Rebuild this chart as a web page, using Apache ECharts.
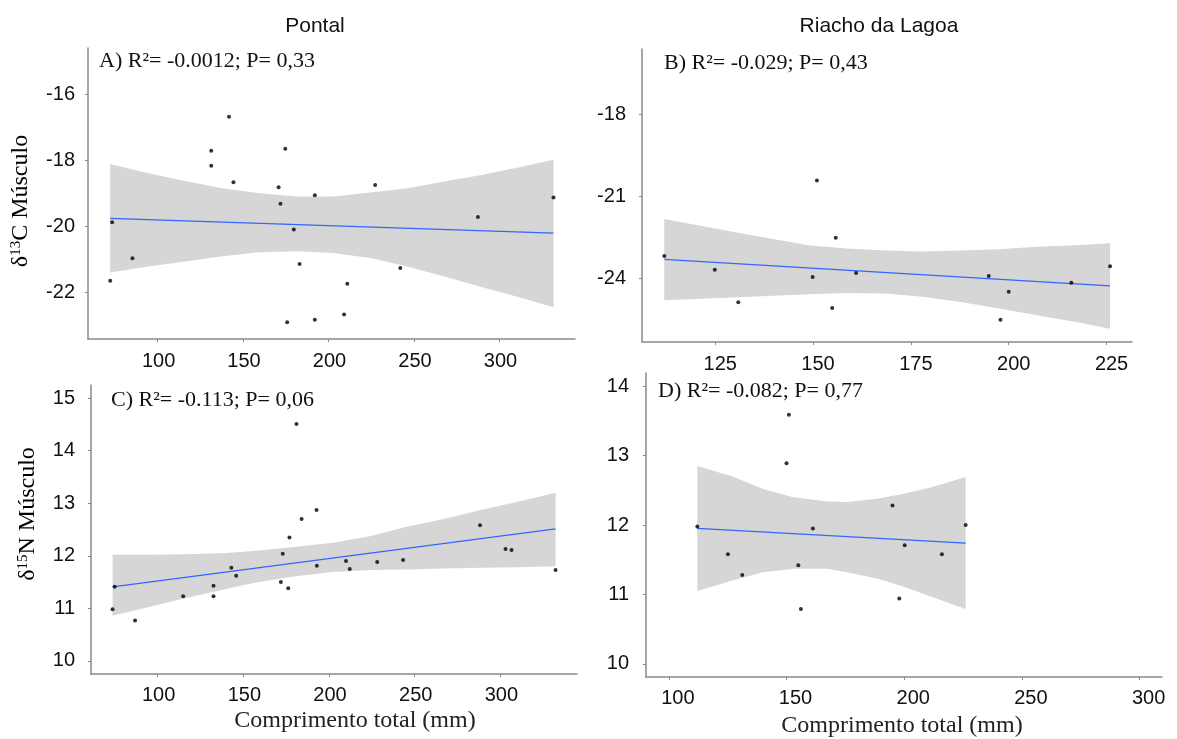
<!DOCTYPE html>
<html>
<head>
<meta charset="utf-8">
<style>
  html, body { margin: 0; padding: 0; background: #ffffff; }
  #chart { width: 1177px; height: 739px; }
</style>
<script src="https://cdn.jsdelivr.net/npm/echarts@6/dist/echarts.min.js"></script>
</head>
<body>
<div id="chart"></div>
<script>
// ---------- Data ----------
// Panel A: Pontal, d13C vs total length
const ptsA_x = [72.3, 73.4, 85.3, 131.4, 131.4, 141.8, 144.4, 170.8, 171.9, 174.7, 175.8, 179.7, 183.1, 192.0, 192.0, 209.1, 211.0, 227.3, 242.0, 287.4, 331.6];
const ptsA_y = [-21.64, -19.87, -20.96, -17.71, -18.16, -16.68, -18.66, -18.81, -19.31, -17.65, -22.89, -20.09, -21.13, -19.05, -22.82, -22.66, -21.73, -18.74, -21.25, -19.71, -19.12];
const fitA_x = [72.3, 331.6];
const fitA_y = [-19.75, -20.20];
const bandA_x  = [72.3, 94.6, 116.2, 137.9, 159.5, 181.2, 202.8, 224.5, 246.1, 267.7, 289.4, 311.0, 331.6];
const bandA_hi = [-18.11, -18.39, -18.62, -18.84, -18.99, -19.09, -19.09, -18.97, -18.84, -18.64, -18.44, -18.21, -17.98];
const bandA_lo = [-21.39, -21.21, -21.06, -20.90, -20.78, -20.75, -20.80, -20.95, -21.21, -21.51, -21.83, -22.13, -22.44];

// Panel B: Riacho da Lagoa, d13C vs total length
const ptsB_x = [112.0, 124.9, 130.9, 149.9, 151.0, 154.9, 155.8, 161.0, 194.9, 197.9, 200.0, 216.0, 225.9];
const ptsB_y = [-23.18, -23.68, -24.87, -23.95, -20.41, -25.08, -22.51, -23.80, -23.91, -25.51, -24.49, -24.16, -23.55];
const fitB_x = [112.0, 225.9];
const fitB_y = [-23.30, -24.27];
const bandB_x  = [112.0, 129.4, 148.8, 158.6, 168.3, 178.0, 187.7, 197.5, 207.2, 216.9, 225.9];
const bandB_hi = [-21.82, -22.29, -22.78, -22.90, -22.98, -23.01, -22.98, -22.93, -22.84, -22.78, -22.71];
const bandB_lo = [-24.80, -24.70, -24.58, -24.53, -24.55, -24.67, -24.86, -25.10, -25.35, -25.59, -25.84];

// Panel C: Pontal, d15N vs total length
const ptsC_x = [73.7, 74.9, 86.8, 114.9, 132.6, 132.6, 143.0, 145.8, 171.9, 173.0, 176.2, 176.9, 181.0, 184.0, 192.7, 192.9, 209.9, 212.1, 228.1, 243.2, 288.1, 303.0, 306.5, 332.2];
const ptsC_y = [10.98, 11.41, 10.77, 11.23, 11.43, 11.23, 11.77, 11.62, 11.50, 12.04, 11.38, 12.35, 14.51, 12.70, 12.87, 11.81, 11.90, 11.75, 11.88, 11.92, 12.58, 12.13, 12.11, 11.73];
const fitC_x = [73.7, 332.2];
const fitC_y = [11.41, 12.51];
const bandC_x  = [73.7, 94.2, 115.8, 137.4, 148.2, 159.0, 180.6, 202.2, 223.8, 245.4, 267.0, 288.6, 310.2, 332.2];
const bandC_hi = [12.02, 12.02, 12.03, 12.05, 12.07, 12.10, 12.17, 12.25, 12.37, 12.55, 12.70, 12.87, 13.03, 13.20];
const bandC_lo = [10.86, 11.02, 11.19, 11.35, 11.43, 11.50, 11.61, 11.69, 11.73, 11.74, 11.76, 11.77, 11.78, 11.80];

// Panel D: Riacho da Lagoa, d15N vs total length
const ptsD_x = [112.1, 125.1, 131.2, 150.0, 151.0, 155.0, 156.1, 161.2, 195.0, 197.9, 200.2, 216.0, 226.1];
const ptsD_y = [11.98, 11.58, 11.28, 12.89, 13.59, 11.42, 10.79, 11.95, 12.28, 10.94, 11.71, 11.58, 12.00];
const fitD_x = [112.1, 226.1];
const fitD_y = [11.95, 11.74];
const bandD_x  = [112.1, 127.0, 140.0, 152.9, 167.5, 175.6, 188.5, 199.8, 211.2, 226.1];
const bandD_hi = [12.85, 12.70, 12.52, 12.40, 12.34, 12.33, 12.38, 12.45, 12.54, 12.69];
const bandD_lo = [11.05, 11.20, 11.32, 11.37, 11.37, 11.32, 11.23, 11.11, 10.97, 10.79];

// Tick labels
const xTicksA = [100, 150, 200, 250, 300];
const yTicksA = [-22, -20, -18, -16];
const xTicksB = [125, 150, 175, 200, 225];
const yTicksB = [-24, -21, -18];
const xTicksC = [100, 150, 200, 250, 300];
const yTicksC = [10, 11, 12, 13, 14, 15];
const xTicksD = [100, 150, 200, 250, 300];
const yTicksD = [10, 11, 12, 13, 14];

// Texts
const colTitles = ['Pontal', 'Riacho da Lagoa'];
const panelNotes = ['A) R²= -0.0012; P= 0,33', 'B) R²= -0.029; P= 0,43', 'C) R²= -0.113; P= 0,06', 'D) R²= -0.082; P= 0,77'];
const xName = 'Comprimento total (mm)';

// ---------- Chart ----------
const chart = echarts.init(document.getElementById('chart'), null, { renderer: 'canvas' });

const AXIS_COLOR = '#8a8a8a';
const SANS = '"Liberation Sans", Arial, sans-serif';
const SERIF = '"Liberation Serif", "Times New Roman", serif';

const grids = [
  { left: 88,  top: 48,  width: 487, height: 291 },
  { left: 642, top: 49,  width: 490, height: 293 },
  { left: 91,  top: 385, width: 486, height: 289 },
  { left: 646, top: 373, width: 516, height: 304 }
];
const xRanges = [[59.3, 344.2], [106.3, 231.5], [61.1, 344.7], [90.3, 309.5]];
const yRanges = [[-23.4, -14.6], [-26.33, -15.59], [9.75, 15.25], [9.81, 14.19]];
const xTicks = [xTicksA, xTicksB, xTicksC, xTicksD];
const yTicks = [yTicksA, yTicksB, yTicksC, yTicksD];
const xMargins = [12, 12, 11, 11];
const xLabelShift = [2, 10, 2, 18];
const yMargins = [13, 16, 16, 17];

function mkX(i) {
  return {
    type: 'value', gridIndex: i, min: xRanges[i][0], max: xRanges[i][1],
    axisLine: { show: true, onZero: false, lineStyle: { color: AXIS_COLOR, width: 1.5 } },
    axisTick: { show: true, length: 3, customValues: xTicks[i], lineStyle: { color: AXIS_COLOR } },
    axisLabel: { customValues: xTicks[i], color: '#111', fontSize: 20, fontFamily: SANS, margin: xMargins[i],
                 padding: [0, 0, 0, xLabelShift[i]] },
    splitLine: { show: false }
  };
}
function mkY(i) {
  return {
    type: 'value', gridIndex: i, min: yRanges[i][0], max: yRanges[i][1],
    axisLine: { show: true, onZero: false, lineStyle: { color: AXIS_COLOR, width: 1.5 } },
    axisTick: { show: true, length: 3, customValues: yTicks[i], lineStyle: { color: AXIS_COLOR } },
    axisLabel: { customValues: yTicks[i], color: '#111', fontSize: 20, fontFamily: SANS, margin: yMargins[i] },
    splitLine: { show: false }
  };
}

function bandSeries(i, bx, lo, hi) {
  return {
    type: 'custom', xAxisIndex: i, yAxisIndex: i, silent: true, z: 1,
    data: bx.map((x, k) => [x, lo[k], hi[k]]),
    encode: { x: 0, y: [1, 2] },
    renderItem: function (params, api) {
      if (params.dataIndex !== 0) return null;
      const pts = [];
      for (let k = 0; k < bx.length; k++) pts.push(api.coord([bx[k], hi[k]]));
      for (let k = bx.length - 1; k >= 0; k--) pts.push(api.coord([bx[k], lo[k]]));
      return { type: 'polygon', shape: { points: pts }, style: { fill: '#d6d6d6', stroke: null } };
    }
  };
}
function fitSeries(i, fx, fy) {
  return {
    type: 'line', xAxisIndex: i, yAxisIndex: i, silent: true, z: 3,
    data: fx.map((x, k) => [x, fy[k]]),
    symbol: 'none', lineStyle: { color: '#3366ff', width: 1.3 }
  };
}
function ptSeries(i, px, py) {
  return {
    type: 'scatter', xAxisIndex: i, yAxisIndex: i, silent: true, z: 4,
    data: px.map((x, k) => [x, py[k]]),
    symbolSize: 4, itemStyle: { color: '#000' }
  };
}

const richY = {
  n: { fontFamily: SERIF, fontSize: 24, color: '#222' },
  s: { fontFamily: SERIF, fontSize: 15, color: '#222', padding: [0, 0, 10, 0] }
};

const option = {
  animation: false,
  backgroundColor: '#ffffff',
  grid: grids,
  xAxis: [0, 1, 2, 3].map(mkX),
  yAxis: [0, 1, 2, 3].map(mkY),
  series: [
    bandSeries(0, bandA_x, bandA_lo, bandA_hi), fitSeries(0, fitA_x, fitA_y), ptSeries(0, ptsA_x, ptsA_y),
    bandSeries(1, bandB_x, bandB_lo, bandB_hi), fitSeries(1, fitB_x, fitB_y), ptSeries(1, ptsB_x, ptsB_y),
    bandSeries(2, bandC_x, bandC_lo, bandC_hi), fitSeries(2, fitC_x, fitC_y), ptSeries(2, ptsC_x, ptsC_y),
    bandSeries(3, bandD_x, bandD_lo, bandD_hi), fitSeries(3, fitD_x, fitD_y), ptSeries(3, ptsD_x, ptsD_y)
  ],
  graphic: [
    { type: 'text', x: 315, y: 26, style: { text: colTitles[0], font: '21px ' + SANS, fill: '#111', textAlign: 'center', textVerticalAlign: 'middle' } },
    { type: 'text', x: 879, y: 26, style: { text: colTitles[1], font: '21px ' + SANS, fill: '#111', textAlign: 'center', textVerticalAlign: 'middle' } },
    { type: 'text', x: 99,  y: 61,  z: 10, style: { text: panelNotes[0], font: '22px ' + SERIF, fill: '#111', textAlign: 'left', textVerticalAlign: 'middle' } },
    { type: 'text', x: 664, y: 63,  z: 10, style: { text: panelNotes[1], font: '22px ' + SERIF, fill: '#111', textAlign: 'left', textVerticalAlign: 'middle' } },
    { type: 'text', x: 111, y: 400, z: 10, style: { text: panelNotes[2], font: '22px ' + SERIF, fill: '#111', textAlign: 'left', textVerticalAlign: 'middle' } },
    { type: 'text', x: 658, y: 391, z: 10, style: { text: panelNotes[3], font: '22px ' + SERIF, fill: '#111', textAlign: 'left', textVerticalAlign: 'middle' } },
    { type: 'text', x: 21, y: 201, rotation: Math.PI / 2,
      style: { text: '{n|δ}{s|13}{n|C Músculo}', rich: richY, textAlign: 'center', textVerticalAlign: 'middle' } },
    { type: 'text', x: 28, y: 514, rotation: Math.PI / 2,
      style: { text: '{n|δ}{s|15}{n|N Músculo}', rich: richY, textAlign: 'center', textVerticalAlign: 'middle' } },
    { type: 'text', x: 355, y: 721, style: { text: xName, font: '24px ' + SERIF, fill: '#222', textAlign: 'center', textVerticalAlign: 'middle' } },
    { type: 'text', x: 902, y: 726, style: { text: xName, font: '24px ' + SERIF, fill: '#222', textAlign: 'center', textVerticalAlign: 'middle' } }
  ]
};

chart.setOption(option);
</script>
</body>
</html>
